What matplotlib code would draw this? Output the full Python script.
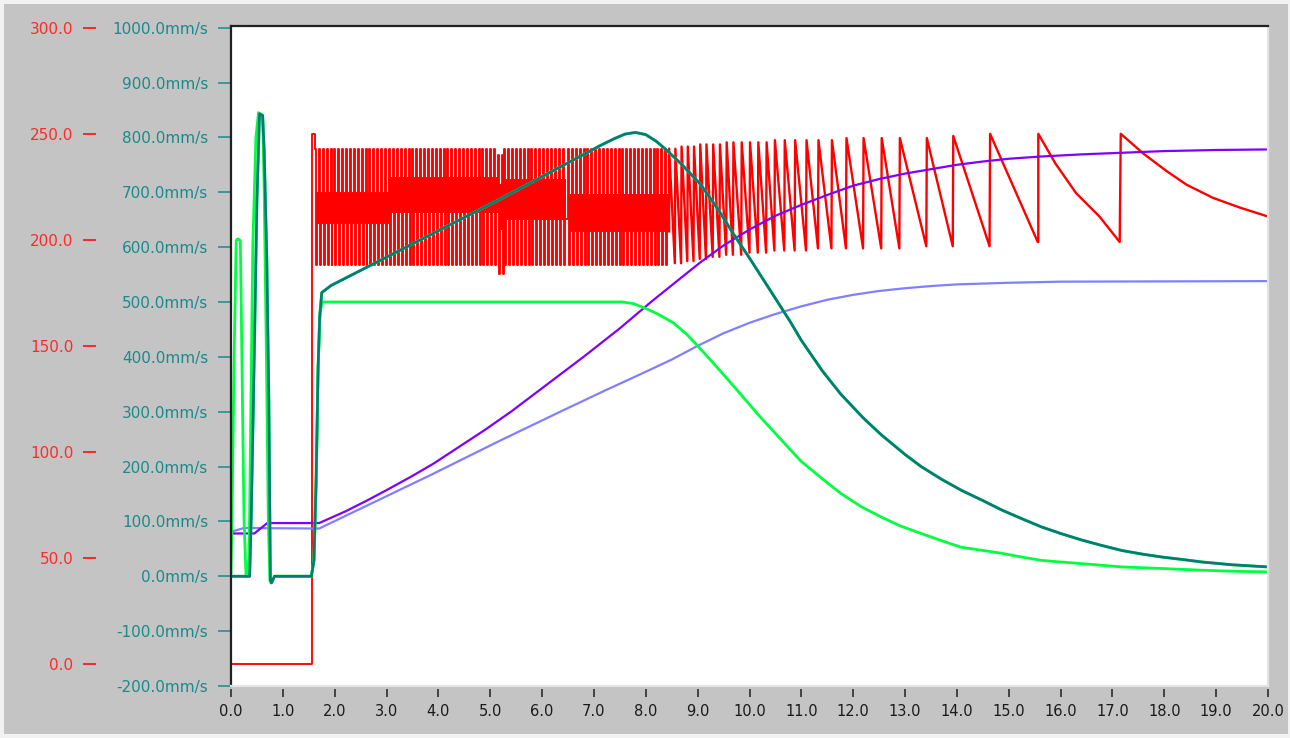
import numpy as np
import matplotlib.pyplot as plt
from matplotlib.patches import Rectangle

plt.rcParams['path.simplify'] = False

# ---- data ----
# teal: actual velocity (mm/s)
teal_t = [0.0, 0.36, 0.39, 0.45, 0.50, 0.55, 0.61, 0.64, 0.69, 0.73, 0.76, 0.78, 0.84,
          1.55, 1.60, 1.64, 1.68, 1.71, 1.75, 1.93, 5.14, 7.12, 7.40, 7.60, 7.80,
          8.00, 8.20, 8.41, 8.70, 9.05, 9.40, 9.69, 10.00, 10.34, 10.78, 11.00,
          11.40, 11.76, 12.20, 12.54, 13.00, 13.31, 13.70, 14.08, 14.50, 14.86,
          15.25, 15.63, 16.00, 16.41, 16.80, 17.18, 17.60, 17.96, 18.40, 18.73,
          19.30, 20.0]
teal_v = [0, 0, 108, 411, 685, 843, 840, 776, 581, 320, -7, -12, 0,
          0, 29, 169, 381, 472, 517, 530, 685, 785, 798, 806, 809,
          805, 793, 776, 750, 715, 668, 624, 580, 530, 465, 430,
          375, 332, 288, 258, 222, 200, 177, 157, 138, 121,
          105, 90, 78, 66, 56, 47, 40, 35, 30, 26,
          21, 17]

# green: commanded velocity (mm/s)
green_t = [0.0, 0.02, 0.06, 0.10, 0.13, 0.18, 0.21, 0.25, 0.29, 0.32, 0.35, 0.37, 0.42,
           0.48, 0.53, 0.61, 0.64, 0.68, 0.72, 0.75, 0.77, 0.84, 1.55, 1.60, 1.65,
           1.68, 1.72, 1.76, 7.55, 7.76, 8.00, 8.21, 8.53, 8.80, 9.05, 9.43, 9.80,
           10.21, 10.60, 10.99, 11.40, 11.76, 12.15, 12.54, 12.90, 13.31, 13.70,
           14.08, 14.50, 14.86, 15.25, 15.63, 16.00, 16.41, 16.80, 17.18, 18.00,
           18.73, 19.40, 20.0]
green_v = [0, 108, 400, 612, 615, 612, 400, 108, 0, 0, 40, 200, 600,
           800, 845, 840, 700, 420, 100, -8, -12, 0, 0, 30, 200,
           380, 480, 500, 500, 497, 488, 479, 462, 440, 415, 375, 335,
           290, 250, 210, 178, 151, 127, 108, 92, 78, 65,
           53, 47, 42, 35, 29, 26, 23, 20, 17, 14,
           11, 9, 8]

# purple: position
purple_t = [0.0, 0.45, 0.70, 1.70, 2.20, 2.60, 3.00, 3.50, 3.90, 4.40, 4.90, 5.40,
            6.10, 6.80, 7.50, 8.10, 8.60, 9.05, 9.50, 10.00, 10.50, 11.00, 11.50,
            12.00, 12.50, 13.00, 13.50, 14.00, 14.50, 15.00, 15.60, 16.40, 17.20,
            18.00, 19.00, 20.0]
purple_v = [78, 78, 97, 97, 118, 137, 157, 183, 205, 236, 267, 300,
            350, 400, 452, 500, 538, 572, 603, 632, 657, 677, 695,
            712, 724, 734, 742, 750, 756, 761, 765, 769, 772,
            775, 777, 778]

# lavender: commanded position
lav_t = [0.0, 0.25, 1.70, 3.86, 5.14, 6.35, 7.20, 7.89, 8.50, 9.00, 9.50, 10.00,
         10.50, 11.00, 11.50, 12.00, 12.50, 13.00, 13.50, 14.00, 15.00, 16.00, 20.0]
lav_v = [81, 88, 87, 185, 245, 300, 338, 368, 395, 420, 443, 462,
         478, 492, 504, 513, 520, 525, 529, 532, 535, 537, 538]

# red: current, dense oscillating phase (per segment: high, low, mid-high, mid-low)
red_start_t = [0.0, 1.555, 1.555, 1.60]
red_start_v = [0.0, 0.0, 250.0, 250.0]
dense_t0 = [1.62, 3.05, 5.15, 5.27, 6.50]
dense_t1 = [3.05, 5.15, 5.27, 6.50, 8.45]
dense_hi = [243, 243, 240, 243, 243]
dense_lo = [188, 188, 184, 188, 188]
dense_mhi = [222, 229, 226, 228, 221]
dense_mlo = [208, 213, 205, 210, 204]
dense_cycle = 0.075

# red: sawtooth phase
tooth_t = [8.45, 8.57, 8.69, 8.81, 8.93, 9.05, 9.17, 9.30, 9.43, 9.56, 9.69, 9.85,
           10.01, 10.17, 10.33, 10.49, 10.68, 10.88, 11.10, 11.33, 11.59, 11.87,
           12.20, 12.55, 12.90, 13.42, 13.93, 14.64]
tooth_hi = [243, 243, 244, 244, 244, 245, 245, 245, 245, 246, 246, 246,
            246, 246, 246, 247, 247, 247, 247, 247, 247, 248,
            248, 248, 248, 248, 249, 250]
tooth_lo = [189, 189, 190, 190, 191, 191, 192, 192, 193, 193, 193, 194,
            194, 194, 195, 195, 195, 195, 196, 196, 196, 196,
            196, 196, 197, 197, 197, 199]
red_tail_t = [15.57, 15.57, 15.9, 16.3, 16.75, 17.14, 17.16, 17.6, 18.04, 18.43,
              18.94, 19.45, 20.0]
red_tail_v = [199, 250, 236, 222, 211, 199, 250, 240.6, 232.5, 226,
              219.8, 215.3, 211]

vel_ticks = [-200, -100, 0, 100, 200, 300, 400, 500, 600, 700, 800, 900, 1000]
cur_ticks = [0, 50, 100, 150, 200, 250, 300]
time_ticks = list(range(0, 21))

# ---- build the red trace: stepped dense part, then sawtooth ----
dense_t = list(red_start_t)
dense_v = list(red_start_v)
for t0, t1, hi, lo, mhi, mlo in zip(dense_t0, dense_t1, dense_hi, dense_lo,
                                     dense_mhi, dense_mlo):
    n = int(round((t1 - t0) / dense_cycle))
    for k in range(n):
        tc = t0 + k * dense_cycle
        dense_t += [tc, tc + dense_cycle / 4, tc + dense_cycle / 2, tc + 3 * dense_cycle / 4]
        dense_v += [hi, lo, mhi, mlo]

saw_t, saw_v = [dense_t[-1] + dense_cycle / 4], [dense_v[-1]]
for i, t in enumerate(tooth_t):
    t_next = tooth_t[i + 1] if i + 1 < len(tooth_t) else red_tail_t[0]
    saw_t += [t, t_next - 0.01]
    saw_v += [tooth_hi[i], tooth_lo[i]]
saw_t += red_tail_t
saw_v += red_tail_v

# ---- figure ----
TEAL = '#1a8a8a'
TEAL_LINE = '#0a7878'
GREEN = '#00ff40'
RED = '#ff0000'
RED_TXT = '#ff2a2a'
GRAY = '#c4c4c4'

fig = plt.figure(figsize=(12.9, 7.38), dpi=100, facecolor='#f2f2f2')
fig.patches.append(Rectangle((4 / 1290, 4 / 738), 1284 / 1290, 730 / 738,
                             transform=fig.transFigure, facecolor=GRAY,
                             edgecolor='none', zorder=-5))

ax = fig.add_axes([231 / 1290, 52 / 738, 1037 / 1290, 660 / 738])
ax2 = ax.twinx()
ax2.set_zorder(0)
ax.set_zorder(1)
ax.patch.set_visible(False)
ax2.patch.set_visible(True)
ax2.patch.set_facecolor('white')

ax.set_xlim(0, 20)
ax.set_ylim(-200, 1003)
ax2.set_ylim(-10.2, 300.8)

# curves
ax2.plot(dense_t, dense_v, color=RED, lw=1.35, drawstyle='steps-post')
ax2.plot(saw_t, saw_v, color=RED, lw=1.7)
ax.plot(lav_t, lav_v, color='#8080ff', lw=1.6)
ax.plot(purple_t, purple_v, color='#8000ff', lw=1.6)
ax.plot(green_t, green_v, color=GREEN, lw=2.0)
ax.plot(teal_t, teal_v, color=GREEN, lw=2.1)
ax.plot(teal_t, teal_v, color=TEAL_LINE, lw=1.9)

# frame
for s in ['left', 'top']:
    ax.spines[s].set_color('#202020')
    ax.spines[s].set_linewidth(1.6)
ax.spines['right'].set_color('#e4e4e4')
ax.spines['right'].set_linewidth(1.6)
ax.spines['bottom'].set_position(('outward', 2.5))
ax.spines['bottom'].set_color('none')
ax.plot([0, 1], [0, 0], transform=ax.transAxes, color='#e4e4e4', lw=1.6,
        clip_on=False, zorder=5)
for s in ax2.spines.values():
    s.set_visible(False)

# velocity axis (teal)
ax.set_yticks(vel_ticks)
ax.set_yticklabels(['%.1fmm/s' % v for v in vel_ticks])
ax.tick_params(axis='y', direction='out', length=9.4, width=1.1, color=TEAL,
               labelcolor=TEAL, labelsize=11, pad=7, left=True, right=False)

# current axis (red), offset to the left
ax2.yaxis.tick_left()
ax2.spines['left'].set_position(('outward', 97))
ax2.set_yticks(cur_ticks)
ax2.set_yticklabels(['%.1f' % v for v in cur_ticks])
ax2.tick_params(axis='y', direction='out', length=9.4, width=1.1, color=RED,
                labelcolor=RED_TXT, labelsize=11, pad=7, left=True, right=False,
                labelleft=True, labelright=False)

# time axis
ax.set_xticks(time_ticks)
ax.set_xticklabels(['%.1f' % t for t in time_ticks])
ax.tick_params(axis='x', direction='out', length=5.8, width=1.1, color='#202020',
               labelcolor='#1a1a1a', labelsize=10.5, pad=5)

fig.savefig('out.png', dpi=100, facecolor=fig.get_facecolor())
